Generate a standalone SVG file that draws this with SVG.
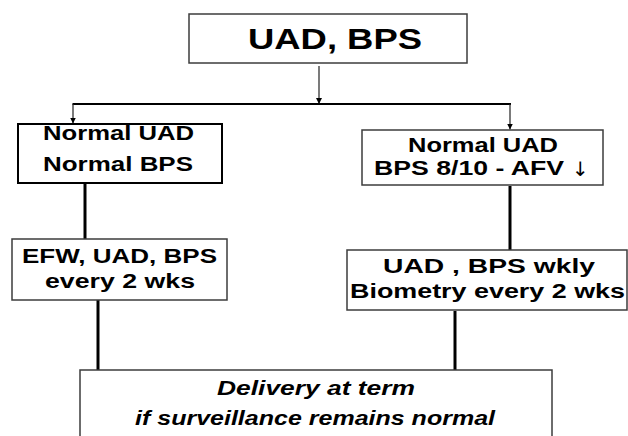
<svg xmlns="http://www.w3.org/2000/svg" width="628" height="436" viewBox="0 0 628 436">
<style>
.box{fill:#fff;stroke:#3c3c3c;stroke-width:1.5}
.t{font-family:"Liberation Sans",Arial,sans-serif;font-weight:bold;fill:#000;font-size:20px}
.thin{stroke:#222;stroke-width:1.2;fill:none}
.thick{stroke:#000;stroke-width:3;fill:none}
</style>
<defs>
<marker id="ah" viewBox="0 0 10 10" refX="10" refY="5" markerWidth="6" markerHeight="6" markerUnits="userSpaceOnUse" orient="auto">
<path d="M0,0 L10,5 L0,10 z" fill="#000"/>
</marker>
</defs>
<g id="connectors">
<line class="thin" x1="319" y1="66" x2="319" y2="104" marker-end="url(#ah)"/>
<line x1="72.5" y1="104" x2="511" y2="104" stroke="#000" stroke-width="2"/>
<line class="thin" x1="73" y1="104" x2="73" y2="123.5" marker-end="url(#ah)"/>
<line class="thin" x1="510" y1="104" x2="510" y2="129.5" marker-end="url(#ah)"/>
<line class="thick" x1="85" y1="184" x2="85" y2="239"/>
<line class="thick" x1="510" y1="186" x2="510" y2="250"/>
<line class="thick" x1="98" y1="300" x2="98" y2="370"/>
<line class="thick" x1="455" y1="311" x2="455" y2="370"/>
</g>
<g id="n_top">
<rect class="box" x="189" y="14" width="278" height="49"/>
<text class="t" x="248" y="49" style="font-size:29px" textLength="174" lengthAdjust="spacingAndGlyphs">UAD, BPS</text>
</g>
<g id="n_left1">
<rect x="18" y="124" width="204" height="59" fill="#fff" stroke="#000" stroke-width="2"/>
<text class="t" x="43" y="140" textLength="151" lengthAdjust="spacingAndGlyphs">Normal UAD</text>
<text class="t" x="43" y="171" textLength="150" lengthAdjust="spacingAndGlyphs">Normal BPS</text>
</g>
<g id="n_right1">
<rect class="box" x="362" y="130" width="241" height="55"/>
<text class="t" x="408" y="152" textLength="150" lengthAdjust="spacingAndGlyphs">Normal UAD</text>
<text class="t" x="374" y="175" textLength="190" lengthAdjust="spacingAndGlyphs">BPS 8/10 - AFV</text>
<text x="572" y="176" style="font-family:'DejaVu Sans',sans-serif;font-size:20px;fill:#000">↓</text>
</g>
<g id="n_left2">
<rect class="box" x="12" y="239" width="215" height="61"/>
<text class="t" x="22" y="263" textLength="195" lengthAdjust="spacingAndGlyphs">EFW, UAD, BPS</text>
<text class="t" x="45" y="288" textLength="150" lengthAdjust="spacingAndGlyphs">every 2 wks</text>
</g>
<g id="n_right2">
<rect class="box" x="347" y="250" width="280" height="60"/>
<text class="t" x="383" y="273" textLength="212" lengthAdjust="spacingAndGlyphs">UAD , BPS wkly</text>
<text class="t" x="350" y="298" textLength="275" lengthAdjust="spacingAndGlyphs">Biometry every 2 wks</text>
</g>
<g id="n_bottom">
<rect class="box" x="80" y="370" width="472" height="90"/>
<text class="t" x="217" y="395" font-style="italic" textLength="198" lengthAdjust="spacingAndGlyphs">Delivery at term</text>
<text class="t" x="135" y="425" font-style="italic" textLength="360" lengthAdjust="spacingAndGlyphs">if surveillance  remains normal</text>
</g>
</svg>
